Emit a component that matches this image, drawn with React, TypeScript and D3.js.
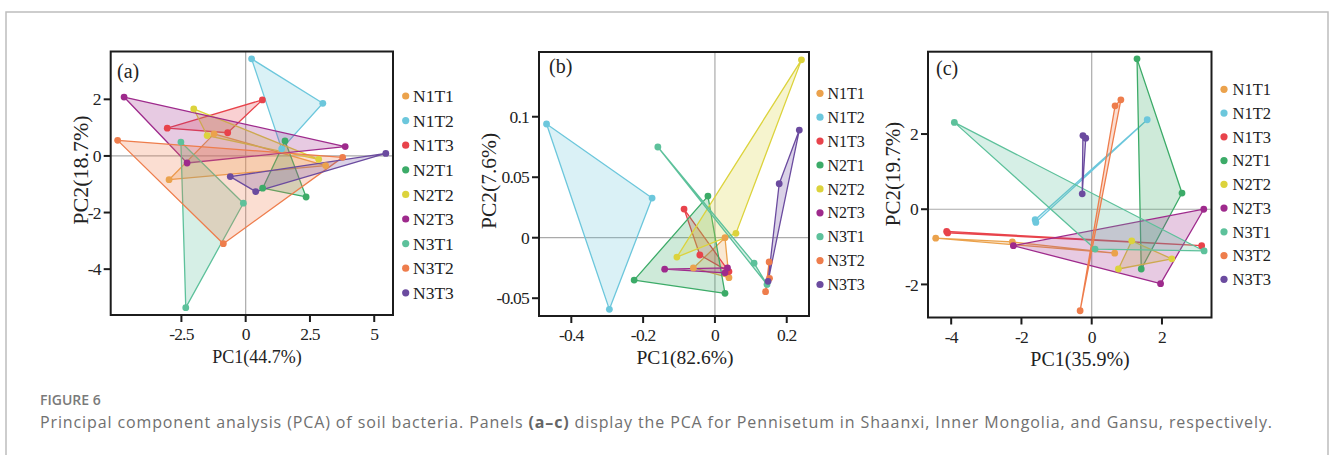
import React from "react";
import * as d3 from "d3";

const groups = ["N1T1", "N1T2", "N1T3", "N2T1", "N2T2", "N2T3", "N3T1", "N3T2", "N3T3"];
const groupColors = ["#EBA24C", "#6CC7DC", "#E8434B", "#3CAB68", "#DCD33C", "#9E2A8C", "#5DC19B", "#EE7D4C", "#6B4B9F"];

// Panel (a) – Shaanxi
const scoresA: [number, number][][] = [
  [[-1.23, 0.78], [3.11, -0.34], [-2.98, -0.84]],
  [[0.23, 3.43], [3.0, 1.86], [1.4, 0.25]],
  [[0.65, 1.98], [-3.05, 0.98], [-0.7, 0.82]],
  [[1.53, 0.53], [2.35, -1.45], [0.66, -1.14]],
  [[-2.02, 1.66], [2.84, -0.12], [-1.5, 0.72]],
  [[-4.73, 2.08], [3.87, 0.33], [-2.28, -0.25]],
  [[-2.52, 0.49], [-0.09, -1.67], [-2.33, -5.36]],
  [[-4.98, 0.55], [3.77, -0.05], [-0.87, -3.1]],
  [[5.45, 0.09], [-0.6, -0.73], [0.39, -1.26]],
];
// Panel (b) – Inner Mongolia
const scoresB: [number, number][][] = [
  [[0.028, 0.0], [-0.06, -0.025], [0.039, -0.033]],
  [[-0.469, 0.094], [-0.175, 0.0328], [-0.294, -0.0592]],
  [[-0.086, 0.0237], [-0.042, -0.0143], [0.039, -0.028]],
  [[-0.0195, 0.0344], [-0.225, -0.035], [0.028, -0.046]],
  [[0.241, 0.147], [0.0585, 0.0036], [-0.106, -0.016]],
  [[-0.14, -0.026], [0.035, -0.025], [0.028, -0.029]],
  [[-0.159, 0.075], [0.109, -0.021], [0.145, -0.0386]],
  [[0.151, -0.02], [0.152, -0.0336], [0.141, -0.0446]],
  [[0.235, 0.089], [0.179, 0.0446], [0.148, -0.036]],
];
// Panel (c) – Gansu
const scoresC: [number, number][][] = [
  [[-4.44, -0.77], [-2.26, -0.87], [0.655, -1.17]],
  [[1.58, 2.38], [-1.61, -0.28], [-1.59, -0.35]],
  [[-4.13, -0.59], [3.13, -0.97], [-4.1, -0.63]],
  [[1.29, 4.0], [2.57, 0.43], [1.41, -1.59]],
  [[1.14, -0.84], [2.28, -1.32], [0.76, -1.59]],
  [[3.19, 0.0], [-2.23, -0.97], [1.96, -1.98]],
  [[-3.91, 2.31], [0.095, -1.06], [3.2, -1.11]],
  [[0.665, 2.75], [0.83, 2.91], [-0.33, -2.7]],
  [[-0.25, 1.96], [-0.17, 1.89], [-0.27, 0.41]],
];

const xTicksA = [-2.5, 0, 2.5, 5];
const yTicksA = [2, 0, -2, -4];
const xTicksB = [-0.4, -0.2, 0, 0.2];
const yTicksB = [0.1, 0.05, 0, -0.05];
const xTicksC = [-4, -2, 0, 2];
const yTicksC = [2, 0, -2];

const serif = "'Liberation Serif', 'Times New Roman', serif";

type PanelProps = {
  data: [number, number][][];
  letter: string;
  xLabel: string;
  yLabel: string;
  xDomain: [number, number];
  yDomain: [number, number];
  box: { l: number; r: number; t: number; b: number };
  xTicks: number[];
  yTicks: number[];
  xLabelX: number;
  xLabelSize: number;
  yLabelX: number;
  yLabelY: number;
  yLabelSize: number;
  tickSize: number;
  legend: { dotX: number; textX: number; y0: number; dy: number; size: number };
  letterX: number;
  letterY: number;
};

function Panel(p: PanelProps) {
  const x = d3.scaleLinear().domain(p.xDomain).range([p.box.l, p.box.r]);
  const y = d3.scaleLinear().domain(p.yDomain).range([p.box.b, p.box.t]);
  const line = d3
    .line<[number, number]>()
    .x((d) => x(d[0]))
    .y((d) => y(d[1]))
    .curve(d3.curveLinearClosed);
  const fmt = (v: number) => String(v);
  return (
    <g>
      <line x1={x(0)} x2={x(0)} y1={p.box.t} y2={p.box.b} stroke="#aaaaaa" strokeWidth={1.2} />
      <line x1={p.box.l} x2={p.box.r} y1={y(0)} y2={y(0)} stroke="#aaaaaa" strokeWidth={1.2} />
      {p.data.map((pts, i) => {
        const hull = d3.polygonHull(pts.map((d) => [d[0], d[1]] as [number, number])) || pts;
        return (
          <path
            key={"h" + i}
            d={line(hull as [number, number][]) || ""}
            fill={groupColors[i]}
            fillOpacity={0.25}
            stroke={groupColors[i]}
            strokeWidth={1.3}
            strokeLinejoin="round"
          />
        );
      })}
      {p.data.map((pts, i) =>
        pts.map((d, j) => (
          <circle key={"c" + i + "-" + j} cx={x(d[0])} cy={y(d[1])} r={3.4} fill={groupColors[i]} />
        ))
      )}
      <rect
        x={p.box.l}
        y={p.box.t}
        width={p.box.r - p.box.l}
        height={p.box.b - p.box.t}
        fill="none"
        stroke="#1c1c1c"
        strokeWidth={2}
      />
      {p.xTicks.map((t) => (
        <g key={"xt" + t}>
          <line x1={x(t)} x2={x(t)} y1={p.box.b} y2={p.box.b + 7} stroke="#1c1c1c" strokeWidth={2} />
          <text
            x={x(t)}
            y={p.box.b + 25}
            textAnchor="middle"
            fontFamily={serif}
            fontSize={p.tickSize}
            letterSpacing={-0.8}
            fill="#222"
          >
            {fmt(t)}
          </text>
        </g>
      ))}
      {p.yTicks.map((t) => (
        <g key={"yt" + t}>
          <line x1={p.box.l - 7} x2={p.box.l} y1={y(t)} y2={y(t)} stroke="#1c1c1c" strokeWidth={2} />
          <text
            x={p.box.l - 10}
            y={y(t)}
            dy="0.35em"
            textAnchor="end"
            fontFamily={serif}
            fontSize={p.tickSize}
            letterSpacing={-0.8}
            fill="#222"
          >
            {fmt(t)}
          </text>
        </g>
      ))}
      <text x={p.xLabelX} y={p.box.b + 48} textAnchor="middle" fontFamily={serif} fontSize={p.xLabelSize} fill="#222">
        {p.xLabel}
      </text>
      <text
        transform={`translate(${p.yLabelX},${p.yLabelY}) rotate(-90)`}
        textAnchor="middle"
        dy="0.35em"
        fontFamily={serif}
        fontSize={p.yLabelSize}
        fill="#222"
      >
        {p.yLabel}
      </text>
      <text x={p.letterX} y={p.letterY} fontFamily={serif} fontSize={20} fill="#222">
        {p.letter}
      </text>
      {groups.map((g, i) => (
        <g key={"lg" + g}>
          <circle cx={p.legend.dotX} cy={p.legend.y0 + i * p.legend.dy} r={3.6} fill={groupColors[i]} />
          <text
            x={p.legend.textX}
            y={p.legend.y0 + i * p.legend.dy}
            dy="0.35em"
            fontFamily={serif}
            fontSize={p.legend.size}
            fill="#222"
          >
            {g}
          </text>
        </g>
      ))}
    </g>
  );
}

export default function App() {
  return (
    <svg
      width={1330}
      height={455}
      style={{ position: "absolute", left: 0, top: 0, display: "block", background: "#fff" }}
    >
      <rect x={6} y={12} width={1322} height={460} fill="#fff" stroke="#bdbdbd" strokeWidth={1.5} />
      <Panel
        data={scoresA}
        letter="(a)"
        xLabel="PC1(44.7%)"
        yLabel="PC2(18.7%)"
        xDomain={[-5.25, 5.73]}
        yDomain={[-5.62, 3.69]}
        box={{ l: 110.7, r: 393, t: 51.5, b: 315 }}
        xTicks={xTicksA}
        yTicks={yTicksA}
        xLabelX={257}
        xLabelSize={18}
        yLabelX={80}
        yLabelY={170}
        yLabelSize={22}
        tickSize={17.5}
        legend={{ dotX: 405.7, textX: 413, y0: 96, dy: 24.6, size: 17.5 }}
        letterX={117}
        letterY={78}
      />
      <Panel
        data={scoresB}
        letter="(b)"
        xLabel="PC1(82.6%)"
        yLabel="PC2(7.6%)"
        xDomain={[-0.49, 0.262]}
        yDomain={[-0.0647, 0.1535]}
        box={{ l: 539, r: 809, t: 52, b: 316 }}
        xTicks={xTicksB}
        yTicks={yTicksB}
        xLabelX={685}
        xLabelSize={19.5}
        yLabelX={488}
        yLabelY={181}
        yLabelSize={21.5}
        tickSize={17.5}
        legend={{ dotX: 820, textX: 827.5, y0: 93.3, dy: 23.9, size: 16 }}
        letterX={549}
        letterY={73}
      />
      <Panel
        data={scoresC}
        letter="(c)"
        xLabel="PC1(35.9%)"
        yLabel="PC2(19.7%)"
        xDomain={[-4.66, 3.41]}
        yDomain={[-2.88, 4.19]}
        box={{ l: 928, r: 1211.5, t: 51.7, b: 317.5 }}
        xTicks={xTicksC}
        yTicks={yTicksC}
        xLabelX={1080}
        xLabelSize={20}
        yLabelX={893}
        yLabelY={174}
        yLabelSize={21}
        tickSize={17.5}
        legend={{ dotX: 1224, textX: 1232.5, y0: 89.3, dy: 23.75, size: 16.5 }}
        letterX={936}
        letterY={75}
      />
      <text x={40} y={405} fontFamily="'Open Sans', 'Noto Sans', sans-serif" fontSize={14} fontWeight={600} fill="#7a7a7a">
        FIGURE 6
      </text>
      <text
        x={40}
        y={428}
        fontFamily="'Open Sans', 'Noto Sans', sans-serif"
        fontSize={16}
        fill="#707070"
        textLength={1232}
        lengthAdjust="spacing"
      >
        Principal component analysis (PCA) of soil bacteria. Panels{" "}
        <tspan fontWeight={700} fill="#666">(a–c)</tspan> display the PCA for Pennisetum in Shaanxi, Inner Mongolia, and
        Gansu, respectively.
      </text>
    </svg>
  );
}
